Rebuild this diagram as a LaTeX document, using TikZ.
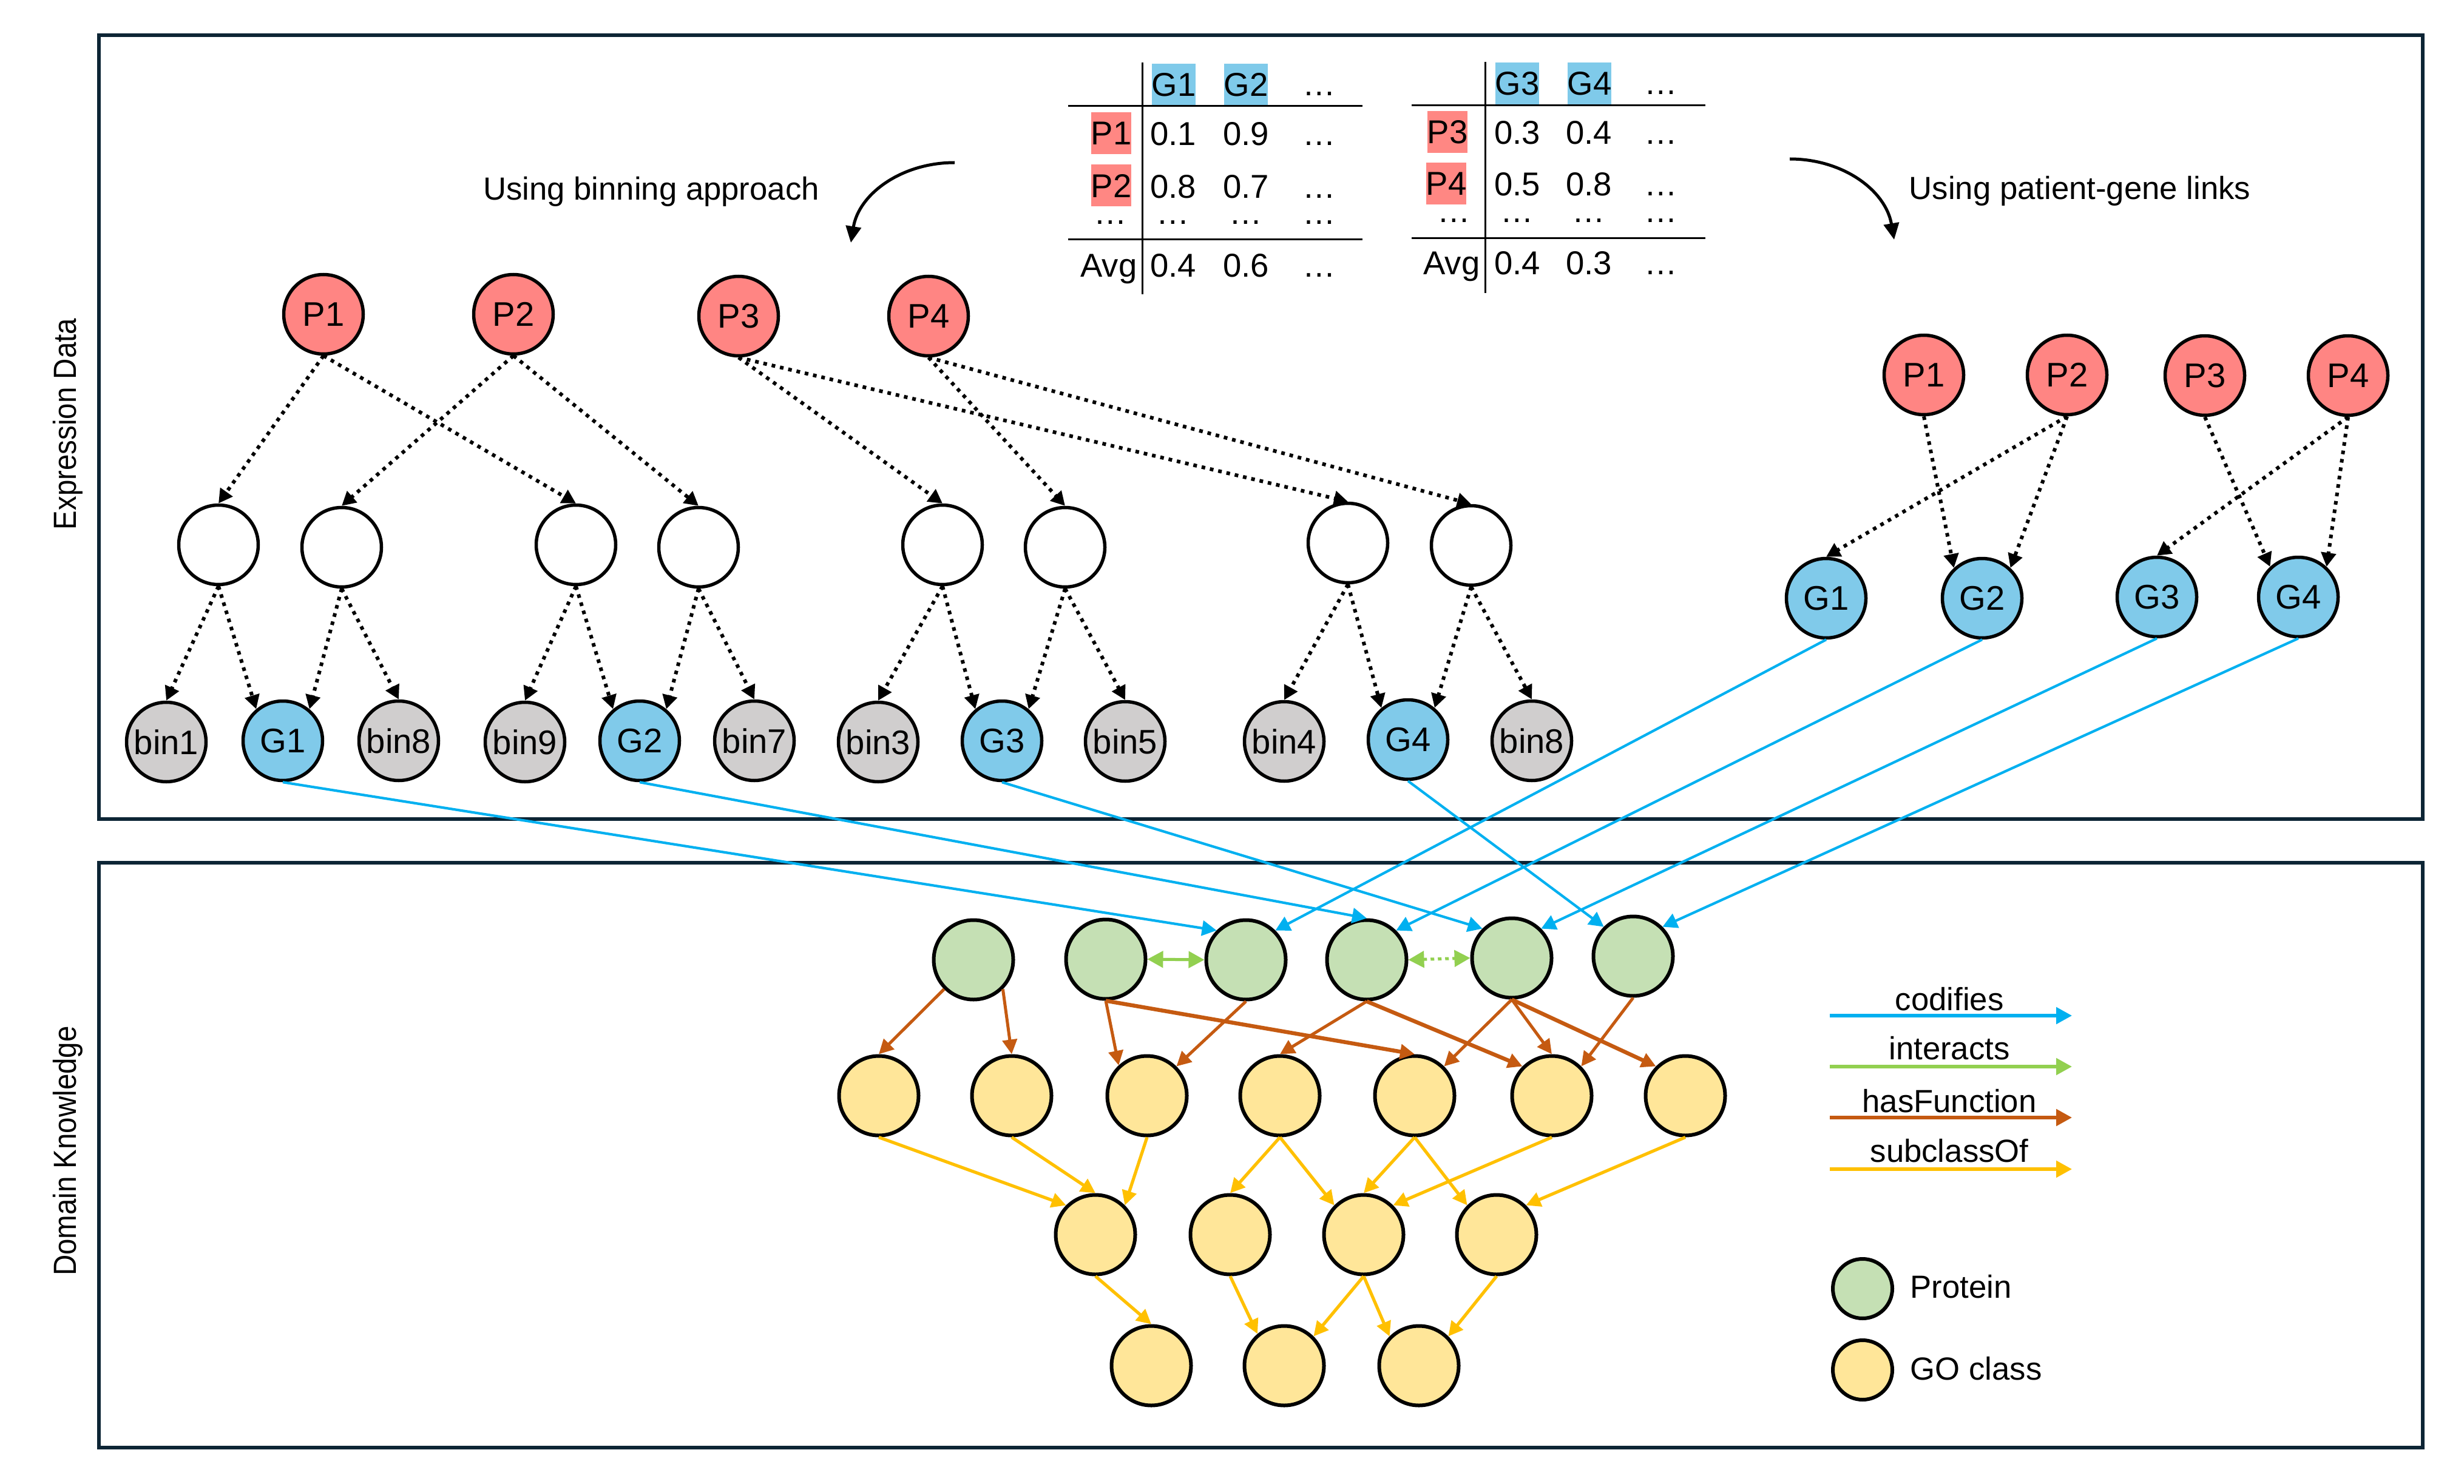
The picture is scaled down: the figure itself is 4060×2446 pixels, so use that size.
\documentclass[tikz,border=0pt]{standalone}
\usepackage{fontspec}
\setmainfont{Liberation Sans}
\newfontfamily\sidefont[FakeStretch=0.9]{Liberation Sans}
\usetikzlibrary{arrows.meta}
\definecolor{pnk}{HTML}{FF8583}
\definecolor{gblue}{HTML}{80CAEA}
\definecolor{bgray}{HTML}{D0CECE}
\definecolor{protc}{HTML}{C5E0B4}
\definecolor{goc}{HTML}{FFE699}
\definecolor{codc}{HTML}{00B0F0}
\definecolor{intc}{HTML}{92D050}
\definecolor{hasc}{HTML}{C55A11}
\definecolor{subc}{HTML}{FFC000}
\definecolor{framec}{HTML}{0D2535}
\definecolor{tblue}{HTML}{7FCAEA}
\definecolor{tred}{HTML}{FF8783}
\begin{document}
\begin{tikzpicture}[x=0.1mm,y=-0.1mm,
  nd/.style={circle, draw=black, line width=0.55mm, minimum size=13.1mm, inner sep=0pt, font=\fontsize{16}{19}\selectfont},
  pat/.style={nd, fill=pnk},
  gen/.style={nd, fill=gblue},
  binn/.style={nd, fill=bgray},
  emp/.style={nd, fill=white},
  prot/.style={nd, fill=protc, line width=0.6mm},
  gocls/.style={nd, fill=goc, line width=0.6mm},
  dotarr/.style={line width=0.6mm, dash pattern=on 0.6mm off 0.8mm, -{Triangle[length=2.3mm,width=2.4mm]}},
  cod/.style={draw=codc, line width=0.42mm, -{Triangle[length=2.4mm,width=2.5mm]}},
  inter/.style={draw=intc, line width=0.5mm, {Triangle[length=2.6mm,width=2.7mm]}-{Triangle[length=2.6mm,width=2.7mm]}},
  hasf/.style={draw=hasc, line width=0.5mm, -{Triangle[length=2.4mm,width=2.4mm]}},
  hasft/.style={hasf, line width=0.65mm},
  subc/.style={draw=subc, line width=0.52mm, -{Triangle[length=2.4mm,width=2.4mm]}},
  frm/.style={draw=framec, line width=0.65mm},
  curv/.style={line width=0.5mm, -{Triangle[length=2.7mm,width=2.5mm]}},
  tt/.style={font=\fontsize{15.5}{18}\selectfont, inner sep=0pt, anchor=base},
  ttd/.style={tt, text height=1mm, text depth=0pt},
  tbox/.style={font=\fontsize{15.5}{18}\selectfont, inner sep=0pt, minimum height=6.9mm},
  tl/.style={line width=0.3mm},
  lbl/.style={font=\fontsize{15}{18}\selectfont, inner sep=0pt, anchor=base},
  side/.style={font=\sidefont\fontsize{15}{18}\selectfont, rotate=90, inner sep=0pt}
]
\useasboundingbox (0,0) rectangle (4060,2446);

% frames
\draw[frm] (163,58) rectangle (3992,1350);
\draw[frm] (163,1422) rectangle (3992,2386);
\node[side] (sideA) at (112,699) {Expression Data};
\node[side] (sideB) at (112,1897) {Domain Knowledge};

% ---------- table 1 ----------
\node[tbox, fill=tblue, minimum width=7.1mm] (t1g1) at (1934,140) {G1};
\node[tbox, fill=tblue, minimum width=7.1mm] (t1g2) at (2053,140) {G2};
\node[ttd] (t1h3) at (2174,158) {…};
\node[tbox, fill=tred, minimum width=6.4mm] (t1p1) at (1831,220) {P1};
\node[tt] (t1a1) at (1933,240) {0.1};
\node[tt] (t1a2) at (2053,240) {0.9};
\node[ttd] (t1a3) at (2174,240) {…};
\node[tbox, fill=tred, minimum width=6.4mm] (t1p2) at (1831,306) {P2};
\node[tt] (t1b1) at (1933,327) {0.8};
\node[tt] (t1b2) at (2053,327) {0.7};
\node[ttd] (t1b3) at (2174,327) {…};
\node[ttd] (t1c0) at (1830,370) {…};
\node[ttd] (t1c1) at (1933,370) {…};
\node[ttd] (t1c2) at (2053,370) {…};
\node[ttd] (t1c3) at (2174,370) {…};
\node[tt] (t1d0) at (1827,457) {Avg};
\node[tt] (t1d1) at (1933,457) {0.4};
\node[tt] (t1d2) at (2053,457) {0.6};
\node[ttd] (t1d3) at (2174,457) {…};
\coordinate (t1v1) at (1882,103); \coordinate (t1v2) at (1882,485);
\coordinate (t1h1a) at (1760,175); \coordinate (t1h1b) at (2245,175);
\coordinate (t1h2a) at (1760,395); \coordinate (t1h2b) at (2245,395);
\draw[tl] (t1v1) -- (t1v2);
\draw[tl] (t1h1a) -- (t1h1b);
\draw[tl] (t1h2a) -- (t1h2b);

% ---------- table 2 ----------
\node[tbox, fill=tblue, minimum width=7.1mm] (t2g3) at (2500,138) {G3};
\node[tbox, fill=tblue, minimum width=7.1mm] (t2g4) at (2619,138) {G4};
\node[ttd] (t2h3) at (2737,156) {…};
\node[tbox, fill=tred, minimum width=6.3mm] (t2p3) at (2385,218) {P3};
\node[tt] (t2a1) at (2500,238) {0.3};
\node[tt] (t2a2) at (2618,238) {0.4};
\node[ttd] (t2a3) at (2737,238) {…};
\node[tbox, fill=tred, minimum width=6.3mm] (t2p4) at (2383,303) {P4};
\node[tt] (t2b1) at (2500,323) {0.5};
\node[tt] (t2b2) at (2618,323) {0.8};
\node[ttd] (t2b3) at (2737,323) {…};
\node[ttd] (t2c0) at (2396,367) {…};
\node[ttd] (t2c1) at (2500,367) {…};
\node[ttd] (t2c2) at (2618,367) {…};
\node[ttd] (t2c3) at (2737,367) {…};
\node[tt] (t2d0) at (2392,453) {Avg};
\node[tt] (t2d1) at (2500,453) {0.4};
\node[tt] (t2d2) at (2618,453) {0.3};
\node[ttd] (t2d3) at (2737,453) {…};
\coordinate (t2v1) at (2447,102); \coordinate (t2v2) at (2447,483);
\coordinate (t2h1a) at (2326,174); \coordinate (t2h1b) at (2810,174);
\coordinate (t2h2a) at (2326,393); \coordinate (t2h2b) at (2810,393);
\draw[tl] (t2v1) -- (t2v2);
\draw[tl] (t2h1a) -- (t2h1b);
\draw[tl] (t2h2a) -- (t2h2b);

% ---------- captions and curved arrows ----------
\node[lbl] (capL) at (1073,330) {Using binning approach};
\node[lbl] (capR) at (3427,329) {Using patient-gene links};
\coordinate (la1) at (1573,268); \coordinate (la2) at (1402,400);
\coordinate (ra1) at (2949,262); \coordinate (ra2) at (3121,395);
\draw[curv] (la1) .. controls (1485,268) and (1415,320) .. (la2);
\draw[curv] (ra1) .. controls (3037,262) and (3107,314) .. (ra2);

% ---------- left tree ----------
\node[pat] (lP1) at (533,518) {P1};
\node[pat] (lP2) at (846,518) {P2};
\node[pat] (lP3) at (1217,521) {P3};
\node[pat] (lP4) at (1530,521) {P4};
\node[emp] (m1) at (360,898) {};
\node[emp] (m2) at (563,902) {};
\node[emp] (m3) at (949,898) {};
\node[emp] (m4) at (1151,902) {};
\node[emp] (m5) at (1553,898) {};
\node[emp] (m6) at (1755,902) {};
\node[emp] (m7) at (2221,895) {};
\node[emp] (m8) at (2424,899) {};
\node[binn] (b1) at (274,1223) {bin1};
\node[gen] (lG1) at (466,1221) {G1};
\node[binn] (b8) at (657,1221) {bin8};
\node[binn] (b9) at (865,1223) {bin9};
\node[gen] (lG2) at (1054,1221) {G2};
\node[binn] (b7) at (1243,1221) {bin7};
\node[binn] (b3) at (1447,1223) {bin3};
\node[gen] (lG3) at (1651,1221) {G3};
\node[binn] (b5) at (1854,1222) {bin5};
\node[binn] (b4) at (2116,1222) {bin4};
\node[gen] (lG4) at (2320,1219) {G4};
\node[binn] (b8b) at (2524,1221) {bin8};

\draw[dotarr] (lP1.south) -- (m1.north);
\draw[dotarr] (lP1.south) -- (m3.north);
\draw[dotarr] (lP2.south) -- (m2.north);
\draw[dotarr] (lP2.south) -- (m4.north);
\draw[dotarr] (lP3.south) -- (m5.north);
\draw[dotarr] (lP3.south) -- (m7.north);
\draw[dotarr] (lP4.south) -- (m6.north);
\draw[dotarr] (lP4.south) -- (m8.north);
\draw[dotarr] (m1.south) -- (b1.north);
\draw[dotarr] (m1.south) -- (lG1.130);
\draw[dotarr] (m2.south) -- (lG1.50);
\draw[dotarr] (m2.south) -- (b8.north);
\draw[dotarr] (m3.south) -- (b9.north);
\draw[dotarr] (m3.south) -- (lG2.130);
\draw[dotarr] (m4.south) -- (lG2.50);
\draw[dotarr] (m4.south) -- (b7.north);
\draw[dotarr] (m5.south) -- (b3.north);
\draw[dotarr] (m5.south) -- (lG3.130);
\draw[dotarr] (m6.south) -- (lG3.50);
\draw[dotarr] (m6.south) -- (b5.north);
\draw[dotarr] (m7.south) -- (b4.north);
\draw[dotarr] (m7.south) -- (lG4.130);
\draw[dotarr] (m8.south) -- (lG4.50);
\draw[dotarr] (m8.south) -- (b8b.north);

% ---------- right graph ----------
\node[pat] (rP1) at (3170,618) {P1};
\node[pat] (rP2) at (3406,618) {P2};
\node[pat] (rP3) at (3633,619) {P3};
\node[pat] (rP4) at (3869,619) {P4};
\node[gen] (rG1) at (3009,986) {G1};
\node[gen] (rG2) at (3266,986) {G2};
\node[gen] (rG3) at (3554,984) {G3};
\node[gen] (rG4) at (3787,984) {G4};
\draw[dotarr] (rP1.south) -- (rG2.133);
\draw[dotarr] (rP2.south) -- (rG1.north);
\draw[dotarr] (rP2.south) -- (rG2.47);
\draw[dotarr] (rP3.south) -- (rG4.133);
\draw[dotarr] (rP4.south) -- (rG3.north);
\draw[dotarr] (rP4.south) -- (rG4.47);

% ---------- domain knowledge ----------
\node[prot] (pr1) at (1604,1582) {};
\node[prot] (pr2) at (1822,1581) {};
\node[prot] (pr3) at (2053,1582) {};
\node[prot] (pr4) at (2252,1582) {};
\node[prot] (pr5) at (2491,1579) {};
\node[prot] (pr6) at (2691,1576) {};
\node[gocls] (ga1) at (1448,1806) {};
\node[gocls] (ga2) at (1667,1806) {};
\node[gocls] (ga3) at (1890,1806) {};
\node[gocls] (ga4) at (2109,1806) {};
\node[gocls] (ga5) at (2331,1806) {};
\node[gocls] (ga6) at (2557,1806) {};
\node[gocls] (ga7) at (2777,1806) {};
\node[gocls] (gb1) at (1805,2035) {};
\node[gocls] (gb2) at (2027,2035) {};
\node[gocls] (gb3) at (2247,2035) {};
\node[gocls] (gb4) at (2466,2035) {};
\node[gocls] (gc1) at (1897,2251) {};
\node[gocls] (gc2) at (2116,2251) {};
\node[gocls] (gc3) at (2338,2251) {};

% codifies
\draw[cod] (lG1.south) -- (pr3.135);
\draw[cod] (lG2.south) -- (pr4.north);
\draw[cod] (lG3.south) -- (pr5.135);
\draw[cod] (lG4.south) -- (pr6.135);
\draw[cod] (rG1.south) -- (pr3.45);
\draw[cod] (rG2.south) -- (pr4.45);
\draw[cod] (rG3.south) -- (pr5.45);
\draw[cod] (rG4.south) -- (pr6.45);

% interacts
\draw[inter] (pr2.east) -- (pr3.west);
\draw[inter, dash pattern=on 0.6mm off 0.6mm] (pr4.east) -- (pr5.west);

% hasFunction
\draw[hasf] (pr1.225) -- (ga1.north);
\draw[hasf] (pr1.315) -- (ga2.north);
\draw[hasf] (pr2.south) -- (ga3.133);
\draw[hasft] (pr2.south) -- (ga5.north);
\draw[hasf] (pr3.south) -- (ga3.45);
\draw[hasf] (pr4.south) -- (ga4.north);
\draw[hasft] (pr4.south) -- (ga6.135);
\draw[hasf] (pr5.south) -- (ga5.45);
\draw[hasf] (pr5.south) -- (ga6.north);
\draw[hasft] (pr5.south) -- (ga7.135);
\draw[hasf] (pr6.south) -- (ga6.45);

% subclassOf
\draw[subc] (ga1.south) -- (gb1.135);
\draw[subc] (ga2.south) -- (gb1.north);
\draw[subc] (ga3.south) -- (gb1.45);
\draw[subc] (ga4.south) -- (gb2.north);
\draw[subc] (ga4.south) -- (gb3.135);
\draw[subc] (ga5.south) -- (gb3.north);
\draw[subc] (ga5.south) -- (gb4.135);
\draw[subc] (ga6.south) -- (gb3.45);
\draw[subc] (ga7.south) -- (gb4.45);
\draw[subc] (gb1.south) -- (gc1.north);
\draw[subc] (gb2.south) -- (gc2.130);
\draw[subc] (gb3.south) -- (gc2.45);
\draw[subc] (gb3.south) -- (gc3.135);
\draw[subc] (gb4.south) -- (gc3.45);

% ---------- legend ----------
\coordinate (k1a) at (3015,1674); \coordinate (k1b) at (3414,1674);
\coordinate (k2a) at (3015,1758); \coordinate (k2b) at (3414,1758);
\coordinate (k3a) at (3015,1842); \coordinate (k3b) at (3414,1842);
\coordinate (k4a) at (3015,1927); \coordinate (k4b) at (3414,1927);
\draw[draw=codc, line width=0.55mm, -{Triangle[length=2.6mm,width=2.7mm]}] (k1a) -- (k1b);
\draw[draw=intc, line width=0.55mm, -{Triangle[length=2.6mm,width=2.7mm]}] (k2a) -- (k2b);
\draw[draw=hasc, line width=0.55mm, -{Triangle[length=2.6mm,width=2.7mm]}] (k3a) -- (k3b);
\draw[draw=subc, line width=0.55mm, -{Triangle[length=2.6mm,width=2.7mm]}] (k4a) -- (k4b);
\node[lbl] (k1t) at (3212,1665) {codifies};
\node[lbl] (k2t) at (3212,1746) {interacts};
\node[lbl] (k3t) at (3212,1833) {hasFunction};
\node[lbl] (k4t) at (3212,1915) {subclassOf};
\node[prot, minimum size=9.8mm] (kp) at (3069,2124) {};
\node[gocls, minimum size=9.8mm] (kg) at (3069,2258) {};
\node[lbl, anchor=base west] (kpt) at (3147,2139) {Protein};
\node[lbl, anchor=base west] (kgt) at (3147,2274) {GO class};
\end{tikzpicture}
\end{document}
